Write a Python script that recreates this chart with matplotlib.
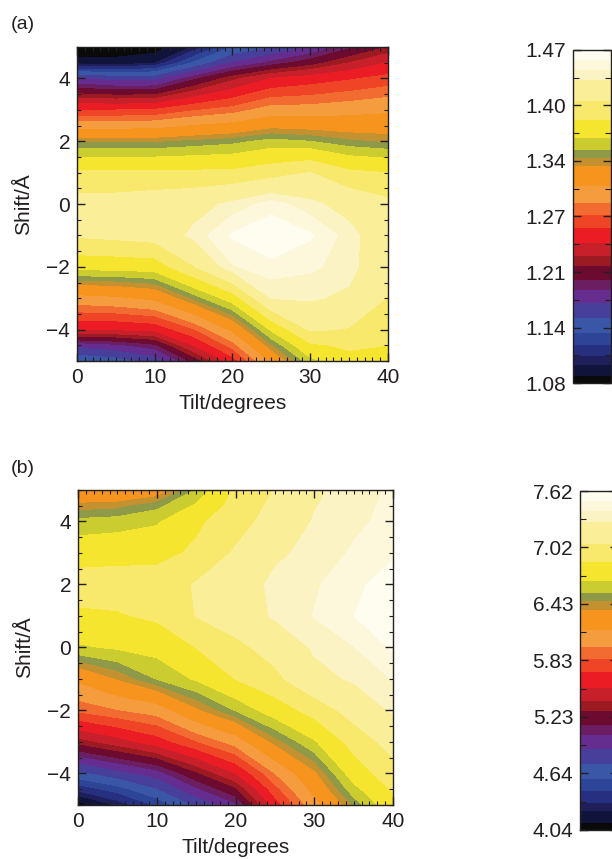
import numpy as np
import matplotlib
matplotlib.use("Agg")
import matplotlib.pyplot as plt
from matplotlib.ticker import MultipleLocator, FixedLocator, FixedFormatter

plt.rcParams['font.family'] = ['Liberation Sans', 'DejaVu Sans']
plt.rcParams['axes.unicode_minus'] = True

# grid
tilt = [0, 5, 10, 15, 20, 25, 30, 35, 40]
shift = [5, 4.5, 4, 3, 2, 1, 0, -1, -2, -3, -4, -4.5, -5]

# panel (a), rows follow shift, columns follow tilt
energy_a = [
    [1.080, 1.080, 1.080, 1.103, 1.139, 1.154, 1.174, 1.197, 1.217],
    [1.092, 1.092, 1.100, 1.140, 1.174, 1.193, 1.209, 1.228, 1.244],
    [1.174, 1.166, 1.166, 1.197, 1.224, 1.244, 1.252, 1.259, 1.267],
    [1.261, 1.261, 1.263, 1.275, 1.283, 1.298, 1.298, 1.302, 1.306],
    [1.341, 1.341, 1.341, 1.345, 1.349, 1.357, 1.353, 1.345, 1.341],
    [1.392, 1.392, 1.392, 1.392, 1.392, 1.400, 1.410, 1.392, 1.388],
    [1.419, 1.419, 1.423, 1.427, 1.439, 1.452, 1.439, 1.427, 1.415],
    [1.412, 1.415, 1.419, 1.439, 1.460, 1.470, 1.460, 1.441, 1.419],
    [1.373, 1.374, 1.376, 1.408, 1.445, 1.454, 1.449, 1.441, 1.415],
    [1.302, 1.306, 1.314, 1.345, 1.376, 1.435, 1.437, 1.431, 1.408],
    [1.244, 1.244, 1.248, 1.275, 1.314, 1.369, 1.412, 1.408, 1.392],
    [1.178, 1.185, 1.197, 1.244, 1.283, 1.341, 1.384, 1.392, 1.388],
    [1.139, 1.146, 1.162, 1.205, 1.252, 1.314, 1.361, 1.380, 1.380],
]

# panel (b)
energy_b = [
    [6.19, 6.19, 6.26, 6.55, 6.90, 7.07, 7.27, 7.36, 7.42],
    [6.40, 6.42, 6.51, 6.69, 6.94, 7.11, 7.29, 7.37, 7.43],
    [6.58, 6.60, 6.65, 6.83, 6.98, 7.15, 7.31, 7.38, 7.44],
    [6.78, 6.80, 6.81, 6.90, 7.09, 7.27, 7.34, 7.42, 7.49],
    [6.96, 6.96, 6.96, 7.08, 7.21, 7.33, 7.39, 7.48, 7.58],
    [6.83, 6.85, 6.90, 7.07, 7.18, 7.32, 7.41, 7.51, 7.62],
    [6.65, 6.69, 6.73, 6.87, 7.01, 7.15, 7.32, 7.40, 7.53],
    [6.19, 6.37, 6.55, 6.69, 6.87, 7.01, 7.24, 7.32, 7.41],
    [5.87, 5.96, 6.04, 6.33, 6.55, 6.76, 6.94, 7.15, 7.32],
    [5.33, 5.47, 5.62, 5.83, 6.04, 6.40, 6.65, 6.94, 7.15],
    [4.68, 4.83, 4.97, 5.26, 5.54, 5.97, 6.33, 6.76, 6.98],
    [4.36, 4.51, 4.72, 5.01, 5.26, 5.79, 6.21, 6.62, 6.89],
    [4.04, 4.25, 4.47, 4.76, 5.01, 5.62, 6.08, 6.47, 6.80],
]

range_a = (1.08, 1.47)
range_b = (4.04, 7.62)
cbar_labels_a = ['1.08', '1.14', '1.21', '1.27', '1.34', '1.40', '1.47']
cbar_labels_b = ['4.04', '4.64', '5.23', '5.83', '6.43', '7.02', '7.62']

# colour bands of the scale, as fractions of the range (bottom -> top)
band_edges = [0, .02, .055, .08, .115, .15, .195, .24, .28, .31, .35, .38, .42,
              .465, .505, .54, .59, .65, .675, .70, .735, .79, .845, .91, .94,
              .97, 1.0]
band_colors = ['#0a0a0a', '#10133a', '#1f1f5c', '#272f80', '#2e4496', '#3a56a6',
               '#483f9a', '#652d90', '#6b1f62', '#6d0a30', '#9c1b22', '#c7202a',
               '#ec1c24', '#ef4526', '#f26b30', '#f59c3e', '#f7941d', '#c49130',
               '#8e9a48', '#cacc30', '#f5e52e', '#f8e86c', '#faee98', '#fcf3c4',
               '#fdf8dc', '#fffcf0']

TXT = '#231f20'
FS = 15

fig = plt.figure(figsize=(6.12, 8.59), dpi=100)


def panel(ax_rect, cax_rect, z, vr, cb_labels, tag, tag_y):
    ax = fig.add_axes(ax_rect)
    cax = fig.add_axes(cax_rect)
    vmin, vmax = vr
    levels = [vmin + f * (vmax - vmin) for f in band_edges]
    cs = ax.contourf(tilt, shift, np.array(z), levels=levels, colors=band_colors,
                     antialiased=False)
    ax.set_xlim(0, 40)
    ax.set_ylim(-5, 5)
    ax.xaxis.set_major_locator(MultipleLocator(10))
    ax.xaxis.set_minor_locator(MultipleLocator(1))
    ax.yaxis.set_major_locator(MultipleLocator(2))
    ax.yaxis.set_minor_locator(MultipleLocator(0.5))
    ax.tick_params(which='both', direction='in', top=True, right=True,
                   colors=TXT, labelcolor=TXT, labelsize=FS, pad=5)
    ax.tick_params(which='major', length=6, width=1)
    ax.tick_params(which='minor', length=3, width=0.8)
    for sp in ax.spines.values():
        sp.set_color(TXT)
        sp.set_linewidth(1)
    ax.set_xlabel('Tilt/degrees', fontsize=FS, color=TXT)
    ax.set_ylabel('Shift/Å', fontsize=FS, color=TXT)
    ax.xaxis.set_label_coords(0.5, -0.105)
    ax.yaxis.set_label_coords(-0.14, 0.5)

    ticks = np.linspace(vmin, vmax, len(cb_labels))
    cb = fig.colorbar(cs, cax=cax, spacing='proportional', ticks=ticks)
    cb.ax.yaxis.set_major_formatter(FixedFormatter(cb_labels))
    cb.ax.yaxis.set_minor_locator(FixedLocator((ticks[:-1] + ticks[1:]) / 2))
    cb.ax.yaxis.set_ticks_position('both')
    cb.ax.tick_params(which='both', direction='in', left=True, right=True,
                      labelleft=True, labelright=False, colors=TXT,
                      labelcolor=TXT, labelsize=FS, pad=5)
    cb.ax.tick_params(which='major', length=6, width=1)
    cb.ax.tick_params(which='minor', length=4, width=0.8)
    cb.outline.set_edgecolor(TXT)
    cb.outline.set_linewidth(1)

    fig.text(0.018, tag_y, tag, fontsize=FS - 1, color=TXT, va='center')


panel([0.1258, 0.5797, 0.508, 0.3655], [0.936, 0.554, 0.062, 0.388],
      energy_a, range_a, cbar_labels_a, '(a)', 0.972)
panel([0.1275, 0.0629, 0.5147, 0.3667], [0.948, 0.0338, 0.062, 0.3946],
      energy_b, range_b, cbar_labels_b, '(b)', 0.455)

fig.savefig('out.png', dpi=100)
